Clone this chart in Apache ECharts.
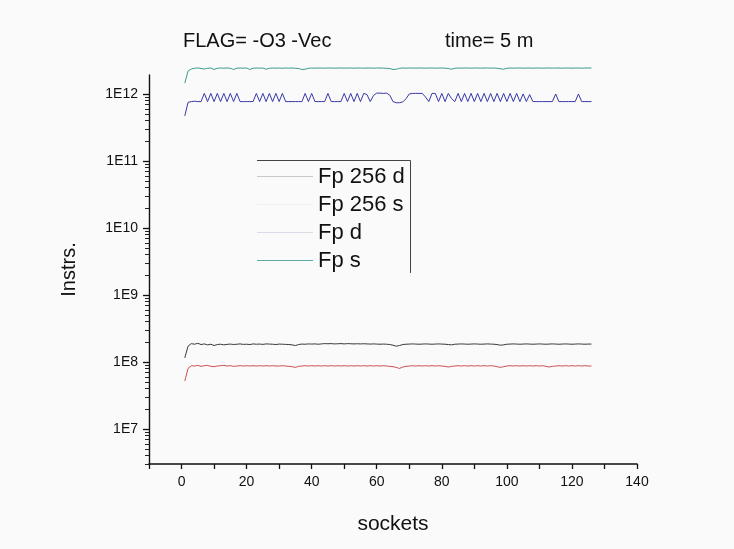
<!DOCTYPE html>
<html>
<head>
<meta charset="utf-8">
<script src="https://cdn.jsdelivr.net/npm/echarts@6/dist/echarts.min.js"></script>
<style>html,body{margin:0;padding:0;background:#fafafa;}#c{width:734px;height:549px;}</style>
</head>
<body>
<div id="c"></div>
<script>
// sockets (x values)
const sockets = [1,2,3,4,5,6,7,8,9,10,11,12,13,14,15,16,17,18,19,20,21,22,23,24,25,26,27,28,29,30,31,32,33,34,35,36,37,38,39,40,41,42,43,44,45,46,47,48,49,50,51,52,53,54,55,56,57,58,59,60,61,62,63,64,65,66,67,68,69,70,71,72,73,74,75,76,77,78,79,80,81,82,83,84,85,86,87,88,89,90,91,92,93,94,95,96,97,98,99,100,101,102,103,104,105,106,107,108,109,110,111,112,113,114,115,116,117,118,119,120,121,122,123,124,125,126];
// Fp 256 d, in units of 1e8
const fp256d = [1.15,1.72,1.88,1.84,1.90,1.82,1.86,1.80,1.84,1.76,1.82,1.84,1.80,1.83,1.85,1.82,1.84,1.86,1.83,1.84,1.82,1.86,1.84,1.85,1.83,1.86,1.85,1.84,1.82,1.85,1.84,1.83,1.82,1.80,1.76,1.82,1.85,1.84,1.86,1.85,1.86,1.84,1.86,1.88,1.87,1.88,1.86,1.87,1.88,1.86,1.88,1.87,1.86,1.87,1.86,1.87,1.86,1.85,1.86,1.85,1.84,1.85,1.84,1.82,1.78,1.72,1.76,1.82,1.84,1.85,1.86,1.85,1.84,1.85,1.86,1.85,1.84,1.85,1.86,1.85,1.84,1.82,1.80,1.84,1.85,1.86,1.85,1.84,1.85,1.86,1.85,1.84,1.85,1.86,1.85,1.84,1.82,1.78,1.80,1.84,1.85,1.86,1.85,1.84,1.85,1.86,1.85,1.84,1.85,1.86,1.85,1.84,1.85,1.86,1.85,1.84,1.85,1.86,1.85,1.84,1.85,1.86,1.85,1.84,1.85,1.85];
// Fp 256 s, in units of 1e7
const fp256s = [5.2,8.0,8.8,8.7,8.9,8.6,8.8,8.9,8.6,8.5,8.7,8.8,8.9,8.7,8.8,8.6,8.7,8.8,8.7,8.8,8.7,8.8,8.7,8.8,8.7,8.8,8.7,8.8,8.7,8.7,8.8,8.7,8.6,8.5,8.3,8.6,8.7,8.8,8.7,8.8,8.7,8.8,8.7,8.8,8.7,8.8,8.7,8.8,8.7,8.8,8.7,8.8,8.7,8.8,8.7,8.8,8.7,8.8,8.7,8.8,8.7,8.8,8.7,8.6,8.5,8.3,8.0,8.4,8.6,8.7,8.8,8.7,8.8,8.7,8.8,8.7,8.8,8.7,8.8,8.7,8.6,8.4,8.6,8.7,8.8,8.7,8.8,8.7,8.8,8.7,8.8,8.7,8.8,8.7,8.8,8.7,8.5,8.3,8.5,8.7,8.8,8.7,8.8,8.7,8.8,8.7,8.8,8.7,8.8,8.7,8.8,8.6,8.4,8.6,8.7,8.8,8.7,8.8,8.7,8.8,8.7,8.8,8.7,8.8,8.7,8.7];
// Fp d, in units of 1e11
const fpd = [4.7,7.5,7.7,7.8,7.7,7.7,10.2,7.7,10.2,7.7,10.2,7.7,10.2,7.7,10.2,7.7,10.2,7.7,7.7,7.7,7.7,7.7,10.2,7.7,10.2,7.7,10.2,7.7,10.2,7.7,10.2,7.7,7.7,7.7,7.7,7.7,7.7,10.2,7.7,10.2,7.7,7.7,7.7,7.7,10.2,7.7,7.7,7.7,7.7,10.2,7.7,10.2,7.7,10.2,7.7,10.2,9.8,7.7,9.5,10.3,10.3,10.2,10.3,9.6,7.7,7.4,7.4,7.6,8.5,10.0,10.2,10.2,10.2,10.2,9.0,7.7,10.2,10.2,7.7,10.2,7.7,10.2,8.5,7.7,10.2,7.7,10.2,7.7,10.2,7.7,10.2,7.7,10.2,7.7,10.2,7.7,10.2,7.7,10.2,7.7,10.2,7.7,10.2,7.7,10.0,7.7,9.8,7.7,7.7,7.7,7.7,7.7,7.7,7.7,10.0,7.7,7.7,7.7,7.7,7.7,7.7,10.0,7.7,7.7,7.7,7.7];
// Fp s, in units of 1e12
const fps = [1.45,2.20,2.36,2.42,2.45,2.40,2.36,2.42,2.44,2.32,2.42,2.44,2.43,2.44,2.42,2.32,2.42,2.44,2.43,2.44,2.32,2.42,2.44,2.43,2.44,2.34,2.42,2.44,2.43,2.44,2.42,2.44,2.43,2.44,2.42,2.40,2.32,2.34,2.42,2.44,2.43,2.44,2.44,2.43,2.44,2.44,2.43,2.44,2.44,2.43,2.44,2.44,2.43,2.44,2.44,2.43,2.44,2.44,2.43,2.44,2.44,2.43,2.42,2.40,2.32,2.34,2.42,2.44,2.43,2.44,2.44,2.43,2.44,2.44,2.43,2.44,2.44,2.43,2.44,2.44,2.43,2.40,2.34,2.42,2.44,2.43,2.44,2.44,2.43,2.44,2.44,2.43,2.44,2.44,2.43,2.44,2.42,2.38,2.34,2.42,2.44,2.43,2.44,2.44,2.43,2.44,2.44,2.43,2.44,2.44,2.43,2.44,2.44,2.43,2.44,2.44,2.43,2.44,2.44,2.43,2.44,2.44,2.43,2.44,2.44,2.44];

const seriesNames = ['Fp 256 d','Fp 256 s','Fp d','Fp s'];
const xTickLabelValues = [0,20,40,60,80,100,120,140];
const xTickValues = [-10,0,10,20,30,40,50,60,70,80,90,100,110,120,130,140];
const yTickValues = [1e7,1e8,1e9,1e10,1e11,1e12];
const yTickLabels = ['1E7','1E8','1E9','1E10','1E11','1E12'];
const Y_MIN = 3.0e6, Y_MAX = 1.92e12;
// minor ticks (2..9 x 10^k), expressed as exponents for a helper linear axis in log10 space
const yMinorTickExps = [];
[6,7,8,9,10,11].forEach(function(k){ for (let m=2;m<=9;m++){ const e = k + Math.log10(m); if (e >= Math.log10(Y_MIN) && e <= Math.log10(Y_MAX)) yMinorTickExps.push(e); } });

function pairs(arr, unit){ return sockets.map(function(x,i){ return [x, arr[i]*unit]; }); }

const FONT = 'Liberation Sans, Arial, sans-serif';
const chart = echarts.init(document.getElementById('c'), null, {renderer:'canvas'});
const lineColors = ['#3a3a3a','#cc5050','#3838a8','#3a9a8c'];

chart.setOption({
  backgroundColor: '#fafafa',
  animation: false,
  title: [
    {text:'FLAG= -O3 -Vec', left:183, top:31, padding:0, textStyle:{fontSize:20, fontWeight:'normal', color:'#111', fontFamily:FONT}},
    {text:'time= 5 m', left:445, top:31, padding:0, textStyle:{fontSize:20, fontWeight:'normal', color:'#111', fontFamily:FONT}}
  ],
  grid: {left:149, right:97, top:75, bottom:85, containLabel:false},
  legend: {
    orient:'vertical', left:257, top:164, padding:0,
    itemWidth:56, itemHeight:1, itemGap:3, icon:'rect',
    textStyle:{fontSize:22, color:'#111', fontFamily:FONT, lineHeight:25},
    data:[
      {name:seriesNames[0], itemStyle:{color:'#c8c8c8'}},
      {name:seriesNames[1], itemStyle:{color:'#f2eeee'}},
      {name:seriesNames[2], itemStyle:{color:'#dcdce6'}},
      {name:seriesNames[3], itemStyle:{color:'#5aaaa6'}}
    ]
  },
  graphic: [
    {type:'polyline', silent:true, shape:{points:[[257,160.5],[410.5,160.5],[410.5,273]]}, style:{stroke:'#444', lineWidth:1, fill:null}}
  ],
  xAxis: [
    {
      type:'value', min:-10, max:140, position:'bottom',
      name:'sockets', nameLocation:'middle', nameGap:50,
      nameTextStyle:{fontSize:21, color:'#111', fontFamily:FONT},
      axisLine:{show:true, onZero:false, lineStyle:{color:'#111', width:1.6}},
      axisTick:{show:true, length:5, customValues:xTickValues, lineStyle:{color:'#111', width:1.3}},
      axisLabel:{customValues:xTickLabelValues, fontSize:14, color:'#111', margin:11, fontFamily:FONT},
      splitLine:{show:false}
    }
  ],
  yAxis: [
    {
      type:'log', logBase:10, min:Y_MIN, max:Y_MAX, position:'left',
      name:'Instrs.', nameLocation:'middle', nameGap:70, nameRotate:90,
      nameTextStyle:{fontSize:20, color:'#111', fontFamily:FONT},
      axisLine:{show:true, onZero:false, lineStyle:{color:'#111', width:1.4}},
      axisTick:{show:true, length:6, customValues:yTickValues, lineStyle:{color:'#111', width:1.3}},
      axisLabel:{customValues:yTickValues, fontSize:14, color:'#111', margin:11, fontFamily:FONT,
        formatter:function(v){ const i = yTickValues.findIndex(function(t){ return Math.abs(Math.log10(t)-Math.log10(v))<1e-6; }); return i>=0 ? yTickLabels[i] : ''; }},
      splitLine:{show:false}
    },
    {
      type:'value', min:Math.log10(Y_MIN), max:Math.log10(Y_MAX), position:'left', offset:0,
      axisLine:{show:true, onZero:false, lineStyle:{color:'rgba(0,0,0,0)'}},
      axisTick:{show:true, length:4, customValues:yMinorTickExps, lineStyle:{color:'#222', width:1}},
      axisLabel:{show:true, customValues:yMinorTickExps, formatter:function(){ return ''; }},
      splitLine:{show:false}
    }
  ],
  series: [
    {name:seriesNames[0], type:'line', data:pairs(fp256d,1e8), color:lineColors[0]},
    {name:seriesNames[1], type:'line', data:pairs(fp256s,1e7), color:lineColors[1]},
    {name:seriesNames[2], type:'line', data:pairs(fpd,1e11), color:lineColors[2]},
    {name:seriesNames[3], type:'line', data:pairs(fps,1e12), color:lineColors[3]}
  ].map(function(s){ return Object.assign(s, {xAxisIndex:0, yAxisIndex:0, showSymbol:false, symbol:'none', clip:false, lineStyle:{width:1, color:s.color}}); })
});
</script>
</body>
</html>
